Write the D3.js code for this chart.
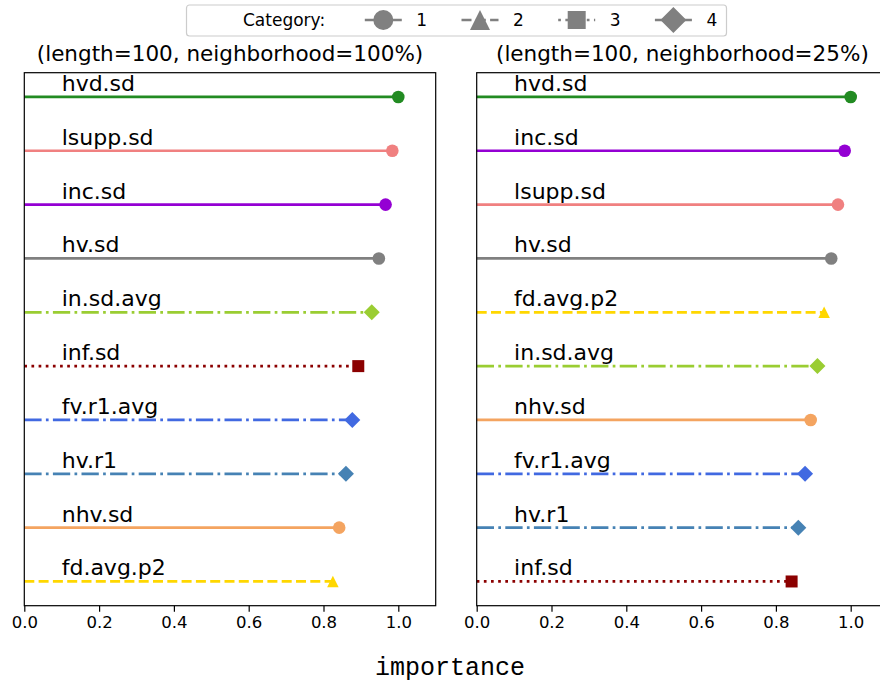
<!DOCTYPE html>
<html>
<head>
<meta charset="utf-8">
<script src="https://cdn.jsdelivr.net/npm/d3@7"></script>
<style>
  body { margin: 0; background: #fff; }
  text { font-family: "DejaVu Sans", sans-serif; fill: #000; }
</style>
</head>
<body>
<div id="chart"></div>
<script>
/* D3 lollipop panels: feature importance */

const categories = ["1", "2", "3", "4"];
const tickValues = [0.0, 0.2, 0.4, 0.6, 0.8, 1.0];

const leftTitle = "(length=100, neighborhood=100%)";
const leftFeatures = ["hvd.sd", "lsupp.sd", "inc.sd", "hv.sd", "in.sd.avg", "inf.sd", "fv.r1.avg", "hv.r1", "nhv.sd", "fd.avg.p2"];
const leftValues = [1.0, 0.984, 0.966, 0.948, 0.929, 0.893, 0.877, 0.860, 0.842, 0.825];
const leftCats = ["1", "1", "1", "1", "4", "3", "4", "4", "1", "2"];

const rightTitle = "(length=100, neighborhood=25%)";
const rightFeatures = ["hvd.sd", "inc.sd", "lsupp.sd", "hv.sd", "fd.avg.p2", "in.sd.avg", "nhv.sd", "fv.r1.avg", "hv.r1", "inf.sd"];
const rightValues = [1.0, 0.984, 0.966, 0.948, 0.929, 0.911, 0.893, 0.878, 0.860, 0.842];
const rightCats = ["1", "1", "1", "1", "2", "4", "1", "4", "4", "3"];

// styling
const colorOf = {
  "hvd.sd": "#228b22", "lsupp.sd": "#f08080", "inc.sd": "#9400d3", "hv.sd": "#808080",
  "in.sd.avg": "#9acd32", "inf.sd": "#8b0000", "fv.r1.avg": "#4169e1", "hv.r1": "#4682b4",
  "nhv.sd": "#f4a460", "fd.avg.p2": "#ffd700"
};
const lw = 2.7;
const dashOf = { "1": null, "2": "10 4.3", "3": "2.7 4.45", "4": "17.3 4.3 2.7 4.3" };

const height = 686,
  width = 880;

const svg = d3.select("#chart")
  .append("svg")
  .attr("width", width)
  .attr("height", height)
  .attr("viewBox", [0, 0, width, height]);

function markerPath(cat, s) {
  // s = overall size in px
  const h = s / 2;
  if (cat === "1") return d3.arc()({ innerRadius: 0, outerRadius: h, startAngle: 0, endAngle: 2 * Math.PI });
  if (cat === "2") return `M0,${-h}L${h},${h}L${-h},${h}Z`;
  if (cat === "3") return `M${-h},${-h}H${h}V${h}H${-h}Z`;
  return `M0,${-h}L${h},0L0,${h}L${-h},0Z`;
}
const markerSize = { "1": 12.6, "2": 11.5, "3": 12, "4": 16 };

const plotTop = 72.7, plotBottom = 605.7;

let y = d3.scaleLinear()
  .domain([-0.45, 9.45])
  .range([plotTop, plotBottom]);

function panel(x0, title, features, values, cats) {
  let x = d3.scaleLinear()
    .domain([0, 1.1])
    .range([x0, x0 + 411.4]);

  const g = svg.append("g");

  // lines
  g.selectAll("line.stem")
    .data(features)
    .join("line")
    .attr("class", "stem")
    .attr("x1", x(0))
    .attr("x2", (d, i) => x(values[i]))
    .attr("y1", (d, i) => y(i))
    .attr("y2", (d, i) => y(i))
    .attr("stroke", d => colorOf[d])
    .attr("stroke-width", lw)
    .attr("stroke-dasharray", (d, i) => dashOf[cats[i]]);

  // markers
  g.selectAll("path.mark")
    .data(features)
    .join("path")
    .attr("class", "mark")
    .attr("transform", (d, i) => `translate(${x(values[i])},${y(i)})`)
    .attr("d", (d, i) => markerPath(cats[i], markerSize[cats[i]]))
    .attr("fill", d => colorOf[d]);

  // labels
  g.selectAll("text.lab")
    .data(features)
    .join("text")
    .attr("class", "lab")
    .attr("x", x(0.1))
    .attr("y", (d, i) => y(i) - 6)
    .style("font-size", "22px")
    .text(d => d);

  // x axis
  const ax = g.append("g")
    .attr("transform", `translate(0,${plotBottom})`)
    .call(d3.axisBottom(x)
      .tickValues(tickValues)
      .tickFormat(d3.format(".1f"))
      .tickSizeOuter(0)
      .tickSize(6)
      .tickPadding(5));
  ax.select(".domain").remove();
  ax.selectAll(".tick line").attr("stroke", "#000").attr("stroke-width", 1.2);
  ax.selectAll(".tick text")
    .style("font-family", "DejaVu Sans")
    .style("font-size", "16.5px")
    .attr("fill", "#000");

  // frame
  g.append("rect")
    .attr("x", x(0))
    .attr("y", plotTop)
    .attr("width", x(1.1) - x(0))
    .attr("height", plotBottom - plotTop)
    .attr("fill", "none")
    .attr("stroke", "#000")
    .attr("stroke-width", 1.2);

  g.append("text")
    .attr("x", (x(0) + x(1.1)) / 2)
    .attr("y", 61)
    .attr("text-anchor", "middle")
    .style("font-size", "21.5px")
    .text(title);
}

panel(24.3, leftTitle, leftFeatures, leftValues, leftCats);
panel(476.7, rightTitle, rightFeatures, rightValues, rightCats);

svg.append("text")
  .attr("x", 450)
  .attr("y", 675)
  .attr("text-anchor", "middle")
  .style("font-family", "'Liberation Mono', monospace")
  .style("font-size", "25px")
  .text("importance");

// legend
const legend = svg.append("g");
legend.append("rect")
  .attr("x", 186.5)
  .attr("y", 5)
  .attr("width", 540)
  .attr("height", 31)
  .attr("rx", 3)
  .attr("fill", "#fff")
  .attr("fill-opacity", 0.8)
  .attr("stroke", "#cccccc")
  .attr("stroke-width", 1.2);

legend.append("text")
  .attr("x", 243)
  .attr("y", 26)
  .style("font-size", "17px")
  .text("Category:");

const legSize = { "1": 20, "2": 20, "3": 18, "4": 26 };
const item = legend.selectAll("g.item")
  .data(categories)
  .join("g")
  .attr("class", "item")
  .attr("transform", (d, i) => `translate(${383.3 + i * 96.7},20)`);

item.append("line")
  .attr("x1", -18.5)
  .attr("x2", 18.5)
  .attr("stroke", "#808080")
  .attr("stroke-width", lw)
  .attr("stroke-dasharray", d => dashOf[d]);

item.append("path")
  .attr("d", d => markerPath(d, legSize[d]))
  .attr("fill", "#808080");

item.append("text")
  .attr("x", 33)
  .attr("y", 6)
  .style("font-size", "17px")
  .text(d => d);
</script>
</body>
</html>
